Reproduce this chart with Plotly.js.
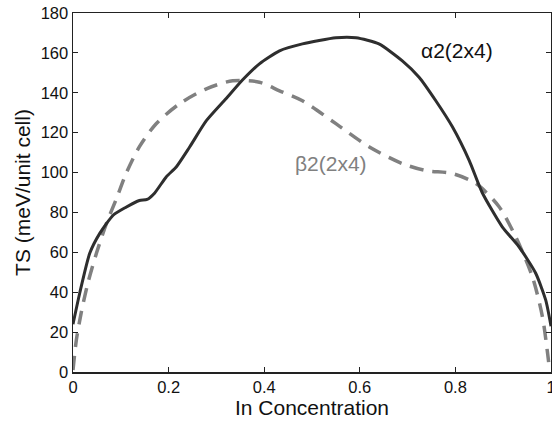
<!DOCTYPE html>
<html><head><meta charset="utf-8">
<script src="https://cdn.plot.ly/plotly-3.0.1.min.js"></script>
<style>html,body{margin:0;padding:0;background:#fff}#c{width:552px;height:421px}</style>
</head><body><div id="c"></div>
<script>
const alphaX = [0, 0.014, 0.035, 0.056, 0.084, 0.11, 0.139, 0.155, 0.171, 0.195, 0.216, 0.244, 0.279, 0.32, 0.355, 0.39, 0.432, 0.48, 0.55, 0.592, 0.64, 0.689, 0.724, 0.759, 0.794, 0.829, 0.856, 0.898, 0.933, 0.968, 0.989, 1.0];
const alphaY = [24, 39.5, 59.5, 69.5, 78.6, 82.5, 86, 86.5, 89.8, 97.8, 102.8, 112.8, 126, 137, 146.5, 154.5, 161, 164.5, 167.6, 167.6, 164.5, 156, 147.8, 136, 122.8, 106, 90, 72.8, 62.8, 49.5, 36, 23];
const betaX = [0, 0.007, 0.017, 0.031, 0.049, 0.07, 0.091, 0.112, 0.139, 0.174, 0.223, 0.279, 0.334, 0.39, 0.432, 0.48, 0.55, 0.62, 0.689, 0.738, 0.794, 0.843, 0.891, 0.926, 0.961, 0.982, 0.992, 0.997];
const betaY = [1, 16, 29.5, 44.5, 59.5, 74.5, 87, 100, 113, 124.5, 134.5, 142, 146, 145.3, 141, 136, 124.5, 112.8, 104.5, 101, 99.5, 94.5, 83, 67.8, 47.8, 27.8, 11, 1];
const xTicks = [0, 0.2, 0.4, 0.6, 0.8, 1];
const xTickText = ['0', '0.2', '0.4', '0.6', '0.8', '1'];
const yTicks = [0, 20, 40, 60, 80, 100, 120, 140, 160, 180];
const labels = ['\u03b12(2x4)', '\u03b22(2x4)'];
const labelX = [0.803, 0.54];
const labelY = [161, 104.5];

const fontFam = 'Liberation Sans, Arial, sans-serif';
const traces = [
  {x: betaX, y: betaY, mode: 'lines', line: {color: '#808080', width: 3.5, dash: '14px,9px', shape: 'spline', smoothing: 0.8}, showlegend: false},
  {x: alphaX, y: alphaY, mode: 'lines', line: {color: '#2e2e2e', width: 3, shape: 'spline', smoothing: 0.6}, showlegend: false}
];
const axisCommon = {showgrid: false, zeroline: false, showline: true, mirror: 'ticks', linecolor: '#222', linewidth: 1.5, ticks: 'inside', ticklen: 5, tickcolor: '#222', ticklabeloverflow: 'allow', tickfont: {family: fontFam, size: 16.5, color: '#111'}};
const layout = {
  width: 552, height: 421,
  margin: {l: 73, r: 1, t: 13, b: 49},
  paper_bgcolor: '#fff', plot_bgcolor: '#fff',
  font: {family: fontFam, color: '#111'},
  xaxis: Object.assign({}, axisCommon, {range: [0, 1], tickvals: xTicks, ticktext: xTickText, title: {text: 'In Concentration', font: {family: fontFam, size: 21, color: '#111'}, standoff: 0}}),
  yaxis: Object.assign({}, axisCommon, {range: [0, 180], tickvals: yTicks, title: {text: 'TS (meV/unit cell)', font: {family: fontFam, size: 21, color: '#111'}, standoff: 4}}),
  annotations: [
    {x: labelX[0], y: labelY[0], text: labels[0], showarrow: false, font: {family: fontFam, size: 21, color: '#111'}},
    {x: labelX[1], y: labelY[1], text: labels[1], showarrow: false, font: {family: fontFam, size: 21, color: '#808080'}}
  ]
};
Plotly.newPlot('c', traces, layout, {staticPlot: true, displayModeBar: false});
</script></body></html>
